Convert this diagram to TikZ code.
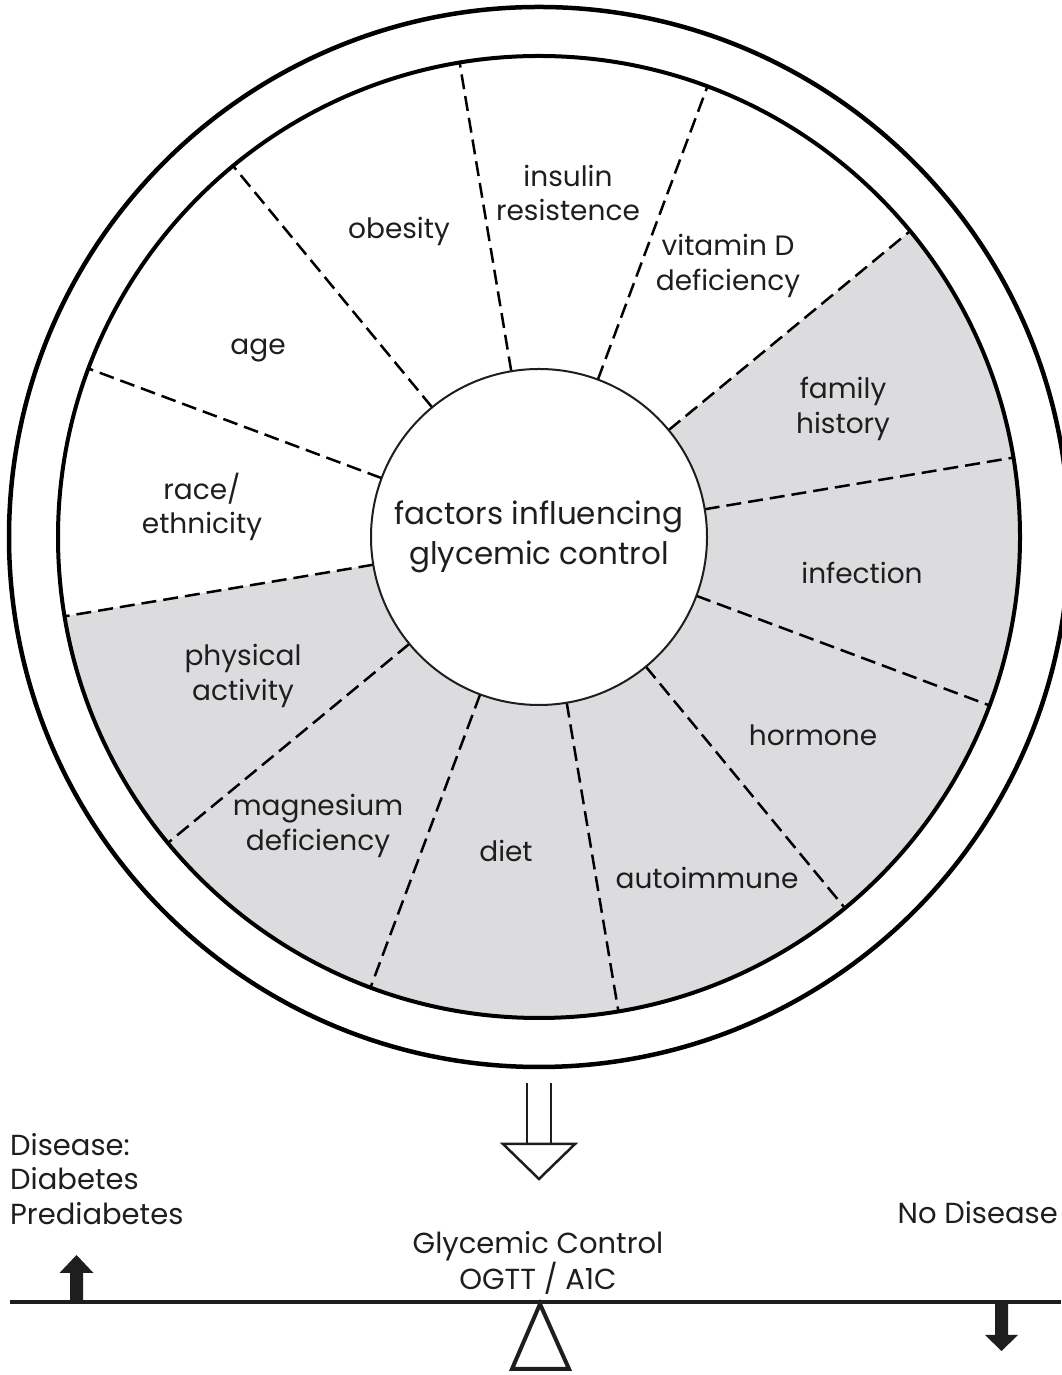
\documentclass[tikz,border=0pt]{standalone}
\usepackage{fontspec}
\setmainfont{Poppins}
\definecolor{sectorgray}{RGB}{220,219,222}
\definecolor{ink}{RGB}{30,30,30}
\begin{document}
\begin{tikzpicture}[x=1pt,y=1pt,
  lbl/.style={font=\fontsize{28}{34.5}\selectfont, align=center, inner sep=0pt, text=ink},
  btxt/.style={font=\fontsize{29}{34.5}\selectfont, inner sep=0pt, text=ink},
  divider/.style={line width=2.5pt, dash pattern=on 15pt off 7pt},
  ring/.style={line width=4.5pt},
  thinarrow/.style={line width=2.5pt},
  solidarrow/.style={fill=ink}]
\useasboundingbox (0,0) rectangle (1061,1375);
\coordinate (C) at (539,838);
% gray sectors
\fill[sectorgray] (C) -- ++(-170.5:481) arc[start angle=-170.5, end angle=39.5, radius=481] -- cycle;
% rings
\draw[ring] (C) circle[radius=530];
\draw[ring, line width=4pt] (C) circle[radius=481];
% dividers
\foreach \a in {9.5,39.5,...,339.5}
  \draw[divider] (C) ++(\a:168) -- ++(\a:313);
% centre circle
\node[circle, draw=ink, line width=2pt, fill=white, minimum size=336pt, inner sep=0pt,
      font=\fontsize{31}{40}\selectfont, align=center, text=ink] (centre) at (C)
      {factors influencing\\glycemic control};
% sector labels
\node[lbl] (insulin) at (568,1182) {insulin\\resistence};
\node[lbl] (obesity) at (399,1144) {obesity};
\node[lbl] (vitd) at (728,1109) {vitamin D\\deficiency};
\node[lbl] (family) at (843,966) {family\\history};
\node[lbl] (infection) at (862,802) {infection};
\node[lbl] (hormone) at (813,640) {hormone};
\node[lbl] (autoimmune) at (707,497) {autoimmune};
\node[lbl] (diet) at (506,524) {diet};
\node[lbl] (magnesium) at (318,549) {magnesium\\deficiency};
\node[lbl] (physical) at (243,699) {physical\\activity};
\node[lbl] (race) at (202,868) {race/\\ethnicity};
\node[lbl] (age) at (258,1025) {age};
% hollow double arrow
\draw[thinarrow, draw=ink] (527,292) -- (527,231);
\draw[thinarrow, draw=ink] (551,292) -- (551,231);
\draw[thinarrow, draw=ink, fill=white, line join=miter] (503,231) -- (575,231) -- (539,196) -- cycle;
% fulcrum and lever
\draw[line width=4pt, draw=ink, fill=white, line join=miter] (540,71) -- (569,6) -- (512,6) -- cycle;
\draw[line width=4pt, draw=ink] (10,73) -- (1061,73);
% up arrow (left)
\fill[solidarrow] (70,73) -- (70,102) -- (59.5,102) -- (76.5,120) -- (93.5,102) -- (83,102) -- (83,73) -- cycle;
% down arrow (right)
\fill[solidarrow] (995,73) -- (995,40) -- (985,40) -- (1001.5,24) -- (1018,40) -- (1008,40) -- (1008,73) -- cycle;
% bottom texts
\node[btxt, anchor=west, align=left] (disease) at (10,196) {Disease:\\Diabetes\\Prediabetes};
\node[btxt, anchor=east] (nodisease) at (1058,162) {No Disease};
\node[btxt, align=center] (glycemic) at (538,112) {Glycemic Control\\OGTT / A1C};
\end{tikzpicture}
\end{document}
